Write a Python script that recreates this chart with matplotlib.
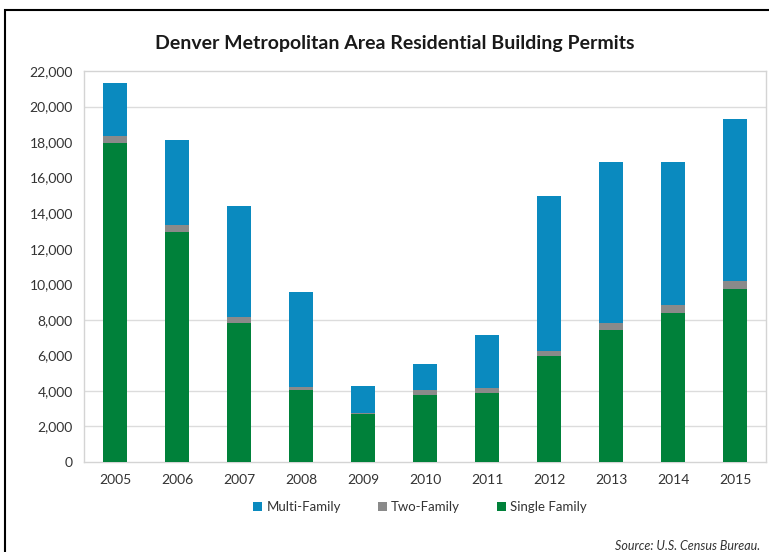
import matplotlib.pyplot as plt
import numpy as np
from matplotlib.patches import Rectangle

years = ['2005', '2006', '2007', '2008', '2009', '2010',
         '2011', '2012', '2013', '2014', '2015']
single_family = [17950, 12950, 7800, 4050, 2700, 3770, 3860, 5950, 7400, 8400, 9750]
two_family = [400, 400, 380, 150, 80, 280, 280, 300, 400, 430, 450]
multi_family = [2950, 4750, 6200, 5350, 1500, 1460, 3020, 8700, 9100, 8070, 9080]
y_ticks = list(range(0, 22001, 2000))
visible_grid = [2000, 4000, 8000, 20000]

BLUE = '#0a8abf'
GRAY = '#8a8a8a'
GREEN = '#00813a'

plt.rcParams['font.family'] = ['Lato', 'DejaVu Sans']

fig = plt.figure(figsize=(7.69, 5.52), dpi=100)
ax = fig.add_axes([84 / 769, 1 - 462 / 552, 682 / 769, 391 / 552])

x = np.arange(len(years))
single = np.array(single_family)
two = np.array(two_family)
multi = np.array(multi_family)
w = 0.4
ax.bar(x, single, w, color=GREEN, label='Single Family', zorder=3)
ax.bar(x, two, w, bottom=single, color=GRAY, label='Two-Family', zorder=3)
ax.bar(x, multi, w, bottom=single + two, color=BLUE, label='Multi-Family', zorder=3)

# only some gridlines survive in the scanned original
for g in visible_grid:
    ax.axhline(g, color='#dcdcdc', lw=1, zorder=1)

ax.set_xlim(-0.5, len(years) - 0.5)
ax.set_ylim(0, 22000)
ax.set_yticks(y_ticks)
ax.set_yticklabels(['{:,}'.format(v) for v in y_ticks], fontsize=10, color='#333333')
ax.set_xticks(x)
ax.set_xticklabels(years, fontsize=10, color='#333333')
ax.tick_params(length=0, pad=8)
ax.tick_params(axis='x', pad=9)
for s in ax.spines.values():
    s.set_color('#d4d4d4')
    s.set_linewidth(1)

handles, labels = ax.get_legend_handles_labels()
leg = fig.legend(handles[::-1], labels[::-1], loc='center', ncol=3,
                 bbox_to_anchor=(420 / 769, 1 - 507 / 552), frameon=False,
                 fontsize=9.5, handlelength=0.7, handleheight=0.7,
                 handletextpad=0.3, columnspacing=2.8)
for t in leg.get_texts():
    t.set_color('#333333')

fig.text(395 / 769, 1 - 44 / 552,
         'Denver Metropolitan Area Residential Building Permits',
         ha='center', va='center', fontsize=14, fontweight='bold', color='#1a1a1a')
fig.text(760 / 769, 1 - 546 / 552, 'Source: U.S. Census Bureau.',
         ha='right', va='center', fontsize=9, style='italic', color='#333333')

fig.patches.append(Rectangle((5 / 769, -0.05), 1.0, 1 - 10 / 552 + 0.05,
                             transform=fig.transFigure, fill=False,
                             edgecolor='black', lw=1.5))

fig.savefig('out.png', dpi=100)
